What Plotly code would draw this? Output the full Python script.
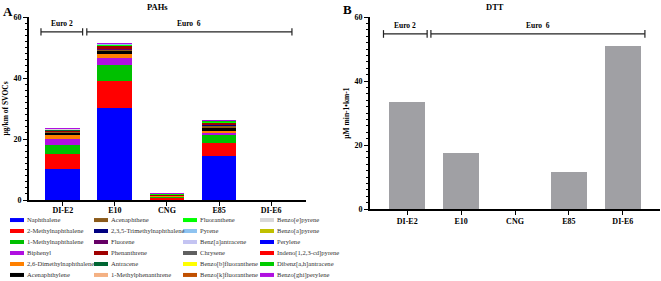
import plotly.graph_objects as go

# ---------------- data ----------------
CATEGORIES = ["DI-E2", "E10", "CNG", "E85", "DI-E6"]

COMPOUNDS = [
    "Naphthalene", "2-Methylnaphthalene", "1-Methylnaphthalene", "Biphenyl",
    "2,6-Dimethylnaphthalene", "Acenaphthylene", "Acenaphthene",
    "2,3,5-Trimethylnaphthalene", "Fluorene", "Phenanthrene", "Antracene",
    "1-Methylphenanthrene", "Fluoranthene", "Pyrene", "Benz[a]antracene",
    "Chrysene", "Benzo[b]fluoranthene", "Benzo[k]fluoranthene",
    "Benzo[e]pyrene", "Benzo[a]pyrene", "Perylene", "Indeno[1,2,3-cd]pyrene",
    "Dibenz[a,h]antracene", "Benzo[ghi]perylene",
]

# PAH emissions (ug/km) per compound, one list per fuel/vehicle
PAH_DI_E2 = [10.3, 4.9, 2.9, 1.9, 1.5, 0.5, 0.35, 0.15, 0.1, 0.3, 0.05, 0.05,
             0.1, 0.08, 0.02, 0.02, 0.02, 0.02, 0.02, 0.02, 0.01, 0.01, 0.01, 0.01]
PAH_E10 = [30.3, 8.7, 5.4, 2.2, 1.3, 1.0, 0.4, 0.2, 0.15, 1.0, 0.1, 0.05,
           0.25, 0.1, 0.01, 0.01, 0.01, 0.01, 0.01, 0.01, 0.01, 0.01, 0.01, 0.01]
PAH_CNG = [0.1, 0.6, 0.4, 0.1, 0.15, 0.1, 0.05, 0.02, 0.03, 0.3, 0.02, 0.02,
           0.15, 0.1, 0.01, 0.01, 0.01, 0.01, 0.01, 0.01, 0.01, 0.01, 0.01, 0.01]
PAH_E85 = [14.4, 4.2, 2.7, 0.9, 0.5, 0.8, 1.0, 0.1, 0.1, 0.7, 0.05, 0.05,
           0.15, 0.1, 0.02, 0.02, 0.02, 0.02, 0.02, 0.02, 0.01, 0.01, 0.01, 0.01]
PAH_DI_E6 = [0, 0, 0, 0, 0, 0, 0, 0, 0, 0, 0, 0,
             0, 0, 0, 0, 0, 0, 0, 0, 0, 0, 0, 0]

# DTT activity (uM min-1 km-1)
DTT_VALUES = [33.4, 17.6, 0, 11.5, 51.0]

Y_TICKS = [0, 20, 40, 60]

# ---------------- styles / layout ----------------
COLORS = [
    "#0000FF", "#FF0000", "#00C000", "#B010E0", "#FF8000", "#000000",
    "#8B5A1A", "#000080", "#660066", "#A00000", "#006633", "#F4B183",
    "#00FF00", "#8EC3F0", "#C4C4F2", "#606060", "#FFFF00", "#C05000",
    "#D8D8D8", "#C0C000", "#0000FF", "#FF0000", "#00CC00", "#B010E0",
]
DTT_COLOR = "#A0A0A4"
FONT = "Times New Roman, Liberation Serif, serif"
W, H = 661, 281

LEG_COL_X = [17, 101, 190, 267]      # swatch centres (px) for legend columns
LEG_TEXT_DX = 10                     # swatch centre -> text start (px)
LEG_ROWS = 6

# group brackets: (label, x0, x1) in category units
BRACKETS_A = [("Euro 2", -0.42, 0.38), ("Euro 6", 0.46, 4.40)]
BRACKETS_B = [("Euro 2", -0.44, 0.37), ("Euro 6", 0.44, 4.41)]

fig = go.Figure()

pah_by_cat = [PAH_DI_E2, PAH_E10, PAH_CNG, PAH_E85, PAH_DI_E6]
for i, name in enumerate(COMPOUNDS):
    fig.add_trace(go.Bar(
        x=CATEGORIES, y=[vals[i] for vals in pah_by_cat], name=name,
        marker=dict(color=COLORS[i], line=dict(width=0)), width=0.67,
        xaxis="x", yaxis="y", showlegend=False))

fig.add_trace(go.Bar(
    x=CATEGORIES, y=DTT_VALUES, name="DTT",
    marker=dict(color=DTT_COLOR, line=dict(width=0)), width=0.67,
    xaxis="x2", yaxis="y2", showlegend=False))

# legend drawn as a key in its own hidden subplot (column-major, 4 x 6)
leg_x = [LEG_COL_X[i // LEG_ROWS] for i in range(len(COMPOUNDS))]
leg_y = [i % LEG_ROWS for i in range(len(COMPOUNDS))]
fig.add_trace(go.Scatter(
    x=leg_x, y=leg_y, mode="markers", cliponaxis=False,
    marker=dict(symbol="line-ew", size=10, line=dict(width=4, color=COLORS)),
    xaxis="x3", yaxis="y3", showlegend=False, hoverinfo="skip"))
fig.add_trace(go.Scatter(
    x=[x + LEG_TEXT_DX for x in leg_x], y=leg_y, mode="text", text=COMPOUNDS,
    textposition="middle right", cliponaxis=False,
    textfont=dict(family=FONT, size=6.6, color="#333333"),
    xaxis="x3", yaxis="y3", showlegend=False, hoverinfo="text"))


def yax(domain, title, anchor):
    return dict(
        domain=domain, range=[0, 60], tickvals=Y_TICKS, anchor=anchor,
        showline=True, linecolor="black", linewidth=1.6,
        ticks="outside", ticklen=4, tickwidth=1.2, tickcolor="black",
        minor=dict(dtick=2, tick0=0, ticks="outside", ticklen=2,
                   tickwidth=1, tickcolor="black"),
        showgrid=False, zeroline=False, automargin=False,
        tickfont=dict(family=FONT, size=8, color="black", weight="bold"),
        title=dict(text=title, standoff=4,
                   font=dict(family=FONT, size=7.5, color="black", weight="bold")))


def xax(domain, rng, anchor, standoff):
    return dict(
        domain=domain, range=rng, anchor=anchor,
        showline=True, linecolor="black", linewidth=1.6,
        ticks="outside", ticklen=4, tickwidth=1.2, tickcolor="black",
        ticklabelstandoff=standoff,
        showgrid=False, zeroline=False, automargin=False,
        tickfont=dict(family=FONT, size=8, color="black", weight="bold"))


fig.update_layout(
    width=W, height=H, margin=dict(l=0, r=0, t=0, b=0),
    paper_bgcolor="white", plot_bgcolor="white",
    barmode="stack", bargap=0.33,
    font=dict(family=FONT, color="black"),
    xaxis=xax([29 / W, 306 / W], [-0.65, 4.67], "y", -2),
    yaxis=yax([1 - 200 / H, 1 - 17 / H], "μg/km of SVOCs", "x"),
    xaxis2=xax([370 / W, 660 / W], [-0.69, 4.69], "y2", 0),
    yaxis2=yax([1 - 209 / H, 1 - 17 / H], "μM min-1•km-1", "x2"),
    xaxis3=dict(domain=[0, 330.5 / W], range=[0, 330.5], visible=False, anchor="y3"),
    yaxis3=dict(domain=[0, 1 - 214 / H], range=[5.55, -0.55], visible=False, anchor="x3"),
)

shapes = []
annotations = []


def add_brackets(brackets, xref, yref, yb, ytext):
    for label, x0, x1 in brackets:
        line = dict(color="#222222", width=1.2)
        shapes.append(dict(type="line", xref=xref, yref=yref, x0=x0, x1=x1, y0=yb, y1=yb, line=line))
        for xx in (x0, x1):
            shapes.append(dict(type="line", xref=xref, yref=yref, x0=xx, x1=xx,
                               y0=yb - 1.2, y1=yb + 1.2, line=line))
        annotations.append(dict(
            xref=xref, yref=yref, x=(x0 + x1) / 2, y=ytext, text=label.replace(" 6", "  6"),
            showarrow=False, yanchor="bottom",
            font=dict(family=FONT, size=7.5, color="black", weight="bold")))


add_brackets(BRACKETS_A, "x", "y", 55.1, 55.8)
add_brackets(BRACKETS_B, "x2", "y2", 54.7, 55.4)

for text, x, y, size in [("A", 8, 12, 13), ("B", 347, 10, 13),
                         ("PAHs", 157, 7, 8.5), ("DTT", 495, 7, 8.5)]:
    annotations.append(dict(
        xref="paper", yref="paper", x=x / W, y=1 - y / H, text=text,
        showarrow=False, xanchor="center", yanchor="middle",
        font=dict(family=FONT, size=size, color="black", weight="bold")))

fig.update_layout(shapes=shapes, annotations=annotations)

fig.write_html("out.html", config={"displayModeBar": False},
               post_script="document.body.style.margin='0px';document.body.style.overflow='hidden';")
